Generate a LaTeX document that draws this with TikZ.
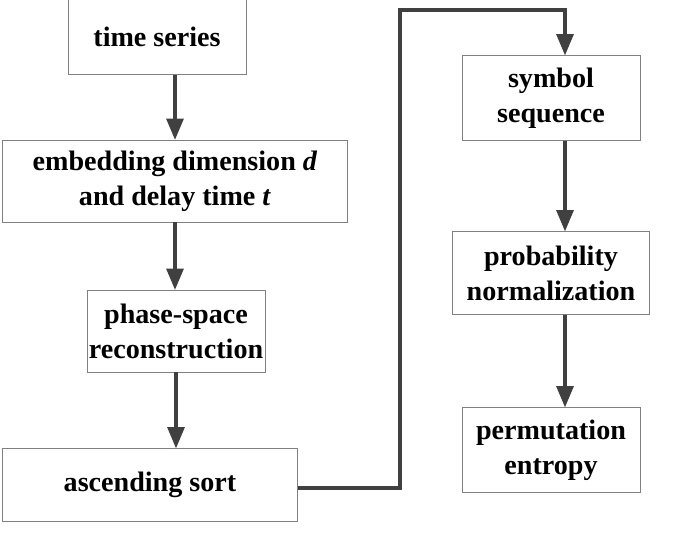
\documentclass[tikz,border=0pt]{standalone}
\usepackage{fontspec}
\setmainfont{Liberation Serif}
\usepackage{tikz}
\usetikzlibrary{arrows,positioning}
\definecolor{pegray}{RGB}{64,64,64}
\tikzstyle{process} = [rectangle, text centered, align=center, draw=gray, fill=white, thin, font=\fontsize{16}{20}\selectfont\bfseries, inner sep=0pt]
\tikzstyle{arrow} = [line width=1.8pt,-triangle 45,color=pegray]

\begin{document}
\begin{tikzpicture}[x=0.02cm,y=-0.02cm]
\useasboundingbox (0,0) rectangle (685,541);
% Left column
\node[process, minimum width=3.56cm, minimum height=1.5cm] (ts) at (157,37) {time series};
\node[process, minimum width=6.9cm, minimum height=1.64cm] (embed) at (175,181) {embedding dimension \textit{d}\\and delay time \textit{t}};
\node[process, minimum width=3.56cm, minimum height=1.64cm] (phase) at (176,331) {phase-space\\reconstruction};
\node[process, minimum width=5.9cm, minimum height=1.46cm] (sort) at (150,485) {ascending sort};

% Right column
\node[process, minimum width=3.56cm, minimum height=1.7cm] (symb) at (551,98) {symbol\\sequence};
\node[process, minimum width=3.94cm, minimum height=1.66cm] (prob) at (551,273) {probability\\normalization};
\node[process, minimum width=3.56cm, minimum height=1.7cm] (perm) at (551,450) {permutation\\entropy};

% Arrows
\coordinate (c1) at (400,488);
\coordinate (c2) at (400,10);
\coordinate (c3) at (565,10);
\draw[arrow] (ts.south -| 175,0) -- (embed.north -| 175,0);
\draw[arrow] (embed.south -| 175,0) -- (phase.north -| 175,0);
\draw[arrow] (phase.south -| 176,0) -- (sort.north -| 176,0);
\draw[arrow] (sort.east |- c1) -- (c1) -- (c2) -- (c3) -- (symb.north -| c3);
\draw[arrow] (symb.south -| 565,0) -- (prob.north -| 565,0);
\draw[arrow] (prob.south -| 565,0) -- (perm.north -| 565,0);
\end{tikzpicture}
\end{document}
